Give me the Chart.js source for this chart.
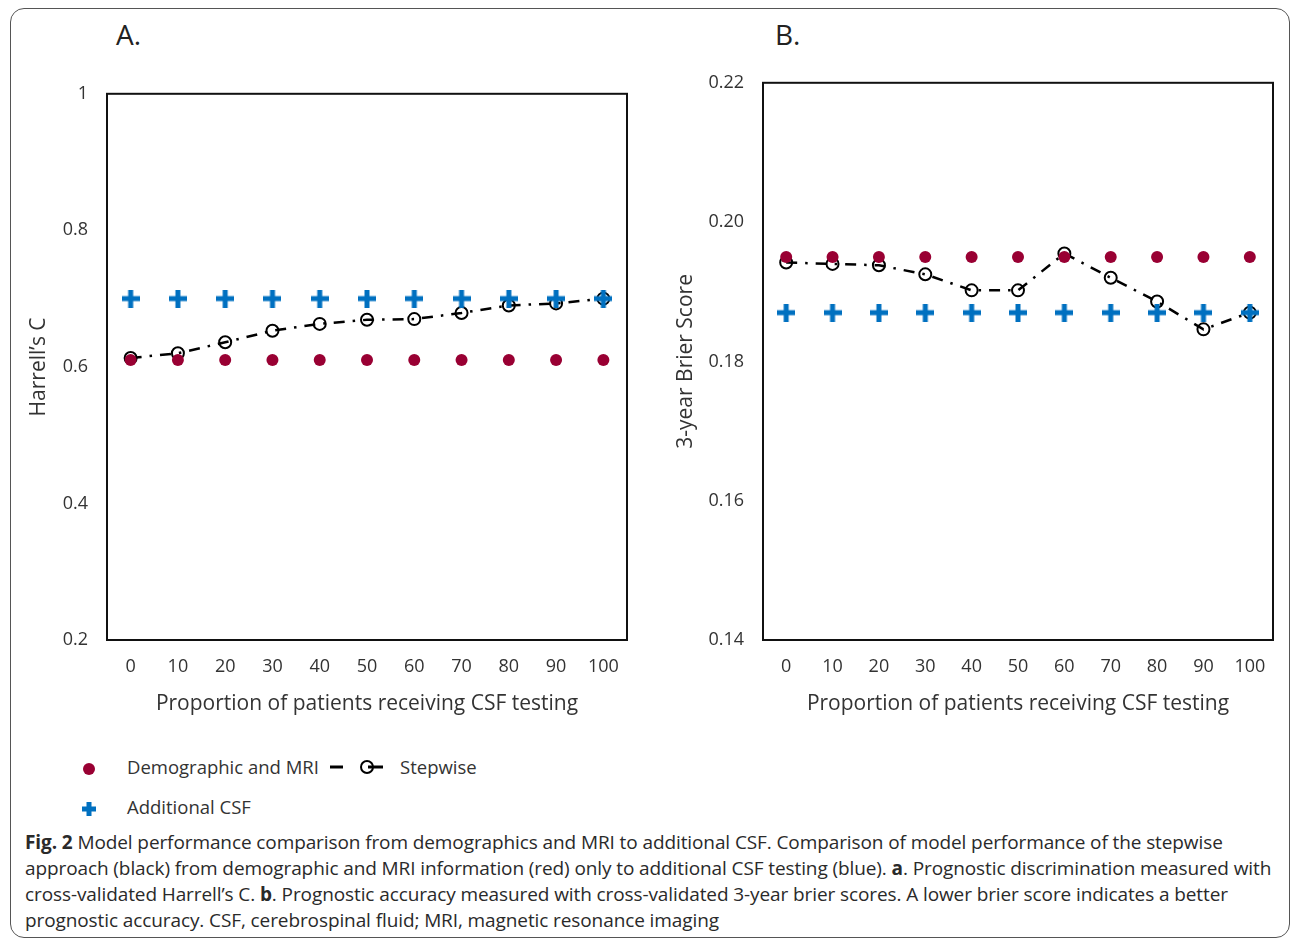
<!DOCTYPE html>
<html>
<head>
<meta charset="utf-8">
<script src="https://cdn.jsdelivr.net/npm/chart.js@4.4.1/dist/chart.umd.min.js"></script>
<style>
  body { margin: 0; background: #fff; width: 1292px; height: 940px; position: relative; overflow: hidden; font-family: "Open Sans", sans-serif; color: #333; }
  .frame { position: absolute; left: 10px; top: 8px; width: 1280px; height: 930px; border: 1.5px solid #555; border-radius: 14px; box-sizing: border-box; }
  .panel { position: absolute; }
  .letter { position: absolute; font-size: 28px; color: #222; }
  .legend { position: absolute; left: 78px; top: 752px; font-size: 18.5px; color: #333; }
  .legend .row { position: absolute; white-space: nowrap; height: 30px; line-height: 30px; }
  .caption { position: absolute; left: 25px; top: 829px; font-size: 19px; line-height: 26px; color: #2a2a2a; white-space: nowrap; letter-spacing: -0.1px; }
</style>
</head>
<body>
<div class="frame"></div>
<div class="letter" style="left:116px; top:15px;">A.</div>
<div class="letter" style="left:775px; top:15px;">B.</div>
<div class="panel" style="left:20px; top:64px; width:620px; height:666px;"><canvas id="chartA"></canvas></div>
<div class="panel" style="left:660px; top:53px; width:630px; height:677px;"><canvas id="chartB"></canvas></div>

<div class="legend">
  <div class="row" style="left:0; top:0;">
    <svg width="22" height="22" style="vertical-align:middle"><circle cx="11" cy="11" r="6" fill="#990033"/></svg>
    <span style="position:absolute; left:49px;">Demographic and MRI</span>
    <svg width="60" height="22" style="position:absolute; left:250px; top:4px;"><line x1="2" y1="11" x2="15" y2="11" stroke="#000" stroke-width="3"/><line x1="40" y1="11" x2="55" y2="11" stroke="#000" stroke-width="3"/><circle cx="39" cy="11" r="6" fill="none" stroke="#000" stroke-width="2"/></svg>
    <span style="position:absolute; left:322px;">Stepwise</span>
  </div>
  <div class="row" style="left:0; top:40px;">
    <svg width="22" height="22" style="vertical-align:middle"><rect x="8.5" y="4" width="5" height="14" fill="#0070c0"/><rect x="4" y="8.5" width="14" height="5" fill="#0070c0"/></svg>
    <span style="position:absolute; left:49px;">Additional CSF</span>
  </div>
</div>

<div class="caption"><b>Fig. 2</b> Model performance comparison from demographics and MRI to additional CSF. Comparison of model performance of the stepwise<br>approach (black) from demographic and MRI information (red) only to additional CSF testing (blue). <b>a</b>. Prognostic discrimination measured with<br>cross-validated Harrell’s C. <b>b</b>. Prognostic accuracy measured with cross-validated 3-year brier scores. A lower brier score indicates a better<br>prognostic accuracy. CSF, cerebrospinal fluid; MRI, magnetic resonance imaging</div>

<script>
// data
const xLabels = ['0', '10', '20', '30', '40', '50', '60', '70', '80', '90', '100'];

const harrellDemo = [0.61, 0.61, 0.61, 0.61, 0.61, 0.61, 0.61, 0.61, 0.61, 0.61, 0.61];
const harrellCSF = [0.70, 0.70, 0.70, 0.70, 0.70, 0.70, 0.70, 0.70, 0.70, 0.70, 0.70];
const harrellStep = [0.613, 0.620, 0.636, 0.653, 0.663, 0.669, 0.670, 0.679, 0.690, 0.693, 0.700];

const brierDemo = [0.195, 0.195, 0.195, 0.195, 0.195, 0.195, 0.195, 0.195, 0.195, 0.195, 0.195];
const brierCSF = [0.187, 0.187, 0.187, 0.187, 0.187, 0.187, 0.187, 0.187, 0.187, 0.187, 0.187];
const brierStep = [0.1942, 0.1940, 0.1938, 0.1925, 0.1902, 0.1902, 0.1955, 0.1920, 0.1886, 0.1846, 0.1870];

const yTicksA = [0.2, 0.4, 0.6, 0.8, 1];
const yTicksB = [0.14, 0.16, 0.18, 0.20, 0.22];

const red = '#990033';
const blue = '#0070c0';
const textColor = '#333';

// blue plus marker
const plus = document.createElement('canvas');
plus.width = 18; plus.height = 18;
const pctx = plus.getContext('2d');
pctx.fillStyle = blue;
pctx.fillRect(6.5, 0, 5, 18);
pctx.fillRect(0, 6.5, 18, 5);

// box round the plot area
const boxPlugin = {
    id: 'box',
    afterDraw(chart) {
        const a = chart.chartArea;
        const ctx = chart.ctx;
        ctx.save();
        ctx.strokeStyle = '#111';
        ctx.lineWidth = 2;
        ctx.strokeRect(a.left, a.top, a.right - a.left, a.bottom - a.top);
        ctx.restore();
    }
};

function makeChart(id, demo, csf, step, yTicks, yTitle, fmt, yWidth, pad) {
    const ctx = document.getElementById(id).getContext('2d');
    return new Chart(ctx, {
        type: 'line',
        data: {
            labels: xLabels,
            datasets: [
                {label: 'Stepwise', data: step, borderColor: '#000', borderWidth: 2.5,
                    borderDash: [11, 8, 2.5, 8], pointStyle: 'circle', pointRadius: 6,
                    pointBorderWidth: 2, pointBorderColor: '#000', pointBackgroundColor: 'rgba(0,0,0,0)', order: 3},
                {label: 'Demographic and MRI', data: demo, showLine: false, pointStyle: 'circle',
                    pointRadius: 6, pointBackgroundColor: red, pointBorderColor: red, pointBorderWidth: 0, order: 2},
                {label: 'Additional CSF', data: csf, showLine: false, pointStyle: plus,
                    pointRadius: 9, order: 1}
            ]
        },
        options: {
            responsive: true,
            maintainAspectRatio: false,
            animation: false,
            layout: {padding: pad},
            plugins: {legend: {display: false}, tooltip: {enabled: false}},
            scales: {
                x: {
                    offset: true,
                    grid: {display: false, drawTicks: false},
                    border: {display: false},
                    ticks: {color: textColor, font: {family: 'Open Sans', size: 18}, padding: 16, maxRotation: 0},
                    title: {display: true, text: 'Proportion of patients receiving CSF testing', color: textColor,
                        font: {family: 'Open Sans', size: 21}, padding: {top: 8, bottom: 13}},
                    afterFit(s) { s.height = 90; }
                },
                y: {
                    min: yTicks[0],
                    max: yTicks[yTicks.length - 1],
                    grid: {display: false, drawTicks: false},
                    border: {display: false},
                    afterBuildTicks(s) { s.ticks = yTicks.map(v => ({value: v})); },
                    ticks: {color: textColor, font: {family: 'Open Sans', size: 18}, padding: 19, callback: fmt},
                    title: {display: true, text: yTitle, color: textColor,
                        font: {family: 'Open Sans', size: 21}, padding: {top: pad.titleLeft, bottom: 0}},
                    afterFit(s) { s.width = yWidth; }
                }
            }
        },
        plugins: [boxPlugin]
    });
}

makeChart('chartA', harrellDemo, harrellCSF, harrellStep, yTicksA, 'Harrell\u2019s C',
    v => String(+v.toFixed(1)), 87, {top: 23, right: 13, bottom: 0, left: 0, titleLeft: 6});
makeChart('chartB', brierDemo, brierCSF, brierStep, yTicksB, '3-year Brier Score',
    v => v.toFixed(2), 103, {top: 22, right: 17, bottom: 0, left: 0, titleLeft: 13});
</script>
</body>
</html>
